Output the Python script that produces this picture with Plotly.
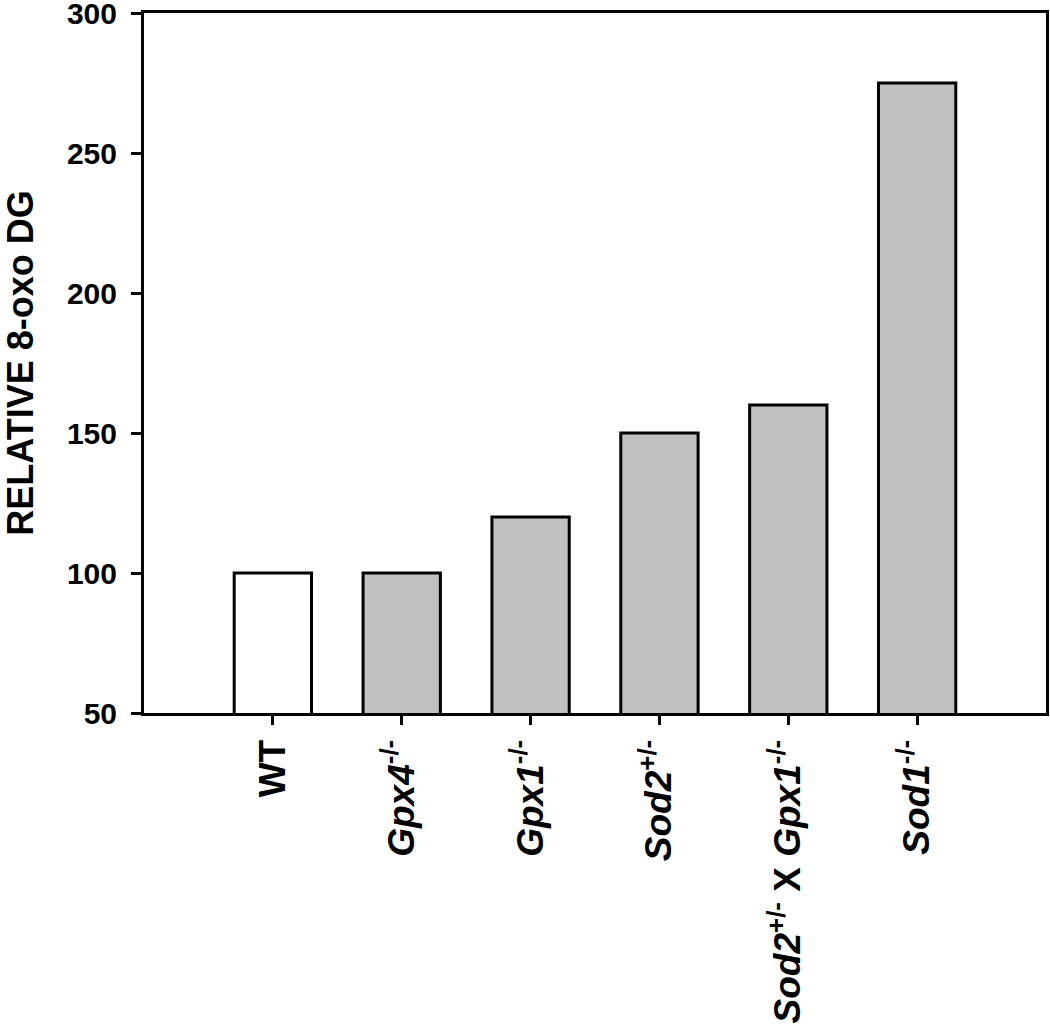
import plotly.graph_objects as go

categories = ["WT", "Gpx4-/-", "Gpx1-/-", "Sod2+/-", "Sod2+/- X Gpx1-/-", "Sod1-/-"]
tick_labels = [
    "<b>WT</b>",
    "<b><i>Gpx4</i><sup>-/-</sup></b>",
    "<b><i>Gpx1</i><sup>-/-</sup></b>",
    "<b><i>Sod2</i><sup>+/-</sup></b>",
    "<b><i>Sod2</i><sup>+/-</sup> X <i>Gpx1</i><sup>-/-</sup></b>",
    "<b><i>Sod1</i><sup>-/-</sup></b>",
]
values = [100, 100, 120, 150, 160, 275]
colors = ["#ffffff", "#c0c0c0", "#c0c0c0", "#c0c0c0", "#c0c0c0", "#c0c0c0"]
y_ticks = [50, 100, 150, 200, 250, 300]

positions = list(range(len(categories)))

fig = go.Figure()
fig.add_trace(go.Bar(
    x=positions,
    y=values,
    width=0.6,
    marker=dict(color=colors, line=dict(color="black", width=3)),
    hoverinfo="skip",
))

font_family = "Liberation Sans, Arial, sans-serif"
fig.update_layout(
    width=1050, height=1036,
    margin=dict(l=144, r=4, t=13, b=323, autoexpand=False),
    plot_bgcolor="white", paper_bgcolor="white",
    showlegend=False,
    font=dict(family=font_family, color="black"),
    xaxis=dict(
        range=[-1, 6], automargin=False,
        tickmode="array", tickvals=positions, ticktext=tick_labels,
        tickangle=-90,
        ticks="outside", ticklen=9, tickwidth=3, tickcolor="black",
        showline=True, linewidth=3, linecolor="black", mirror=True,
        showgrid=False, zeroline=False,
        tickfont=dict(size=37, family=font_family),
    ),
    yaxis=dict(
        range=[50, 300], automargin=False,
        tickmode="array", tickvals=y_ticks, ticktext=[f"<b>{v}</b>" for v in y_ticks],
        ticks="outside", ticklen=10, tickwidth=3, tickcolor="black",
        ticklabelstandoff=8, ticklabeloverflow="allow",
        showline=True, linewidth=3, linecolor="black", mirror=True,
        showgrid=False, zeroline=False,
        tickfont=dict(size=30, family=font_family),
        title=dict(text="<b>RELATIVE 8-oxo DG</b>", font=dict(size=36, family=font_family), standoff=30),
    ),
)

fig.write_html(
    "out.html",
    config={"displayModeBar": False},
    post_script="document.body.style.margin='0';document.body.style.overflow='hidden';",
)
